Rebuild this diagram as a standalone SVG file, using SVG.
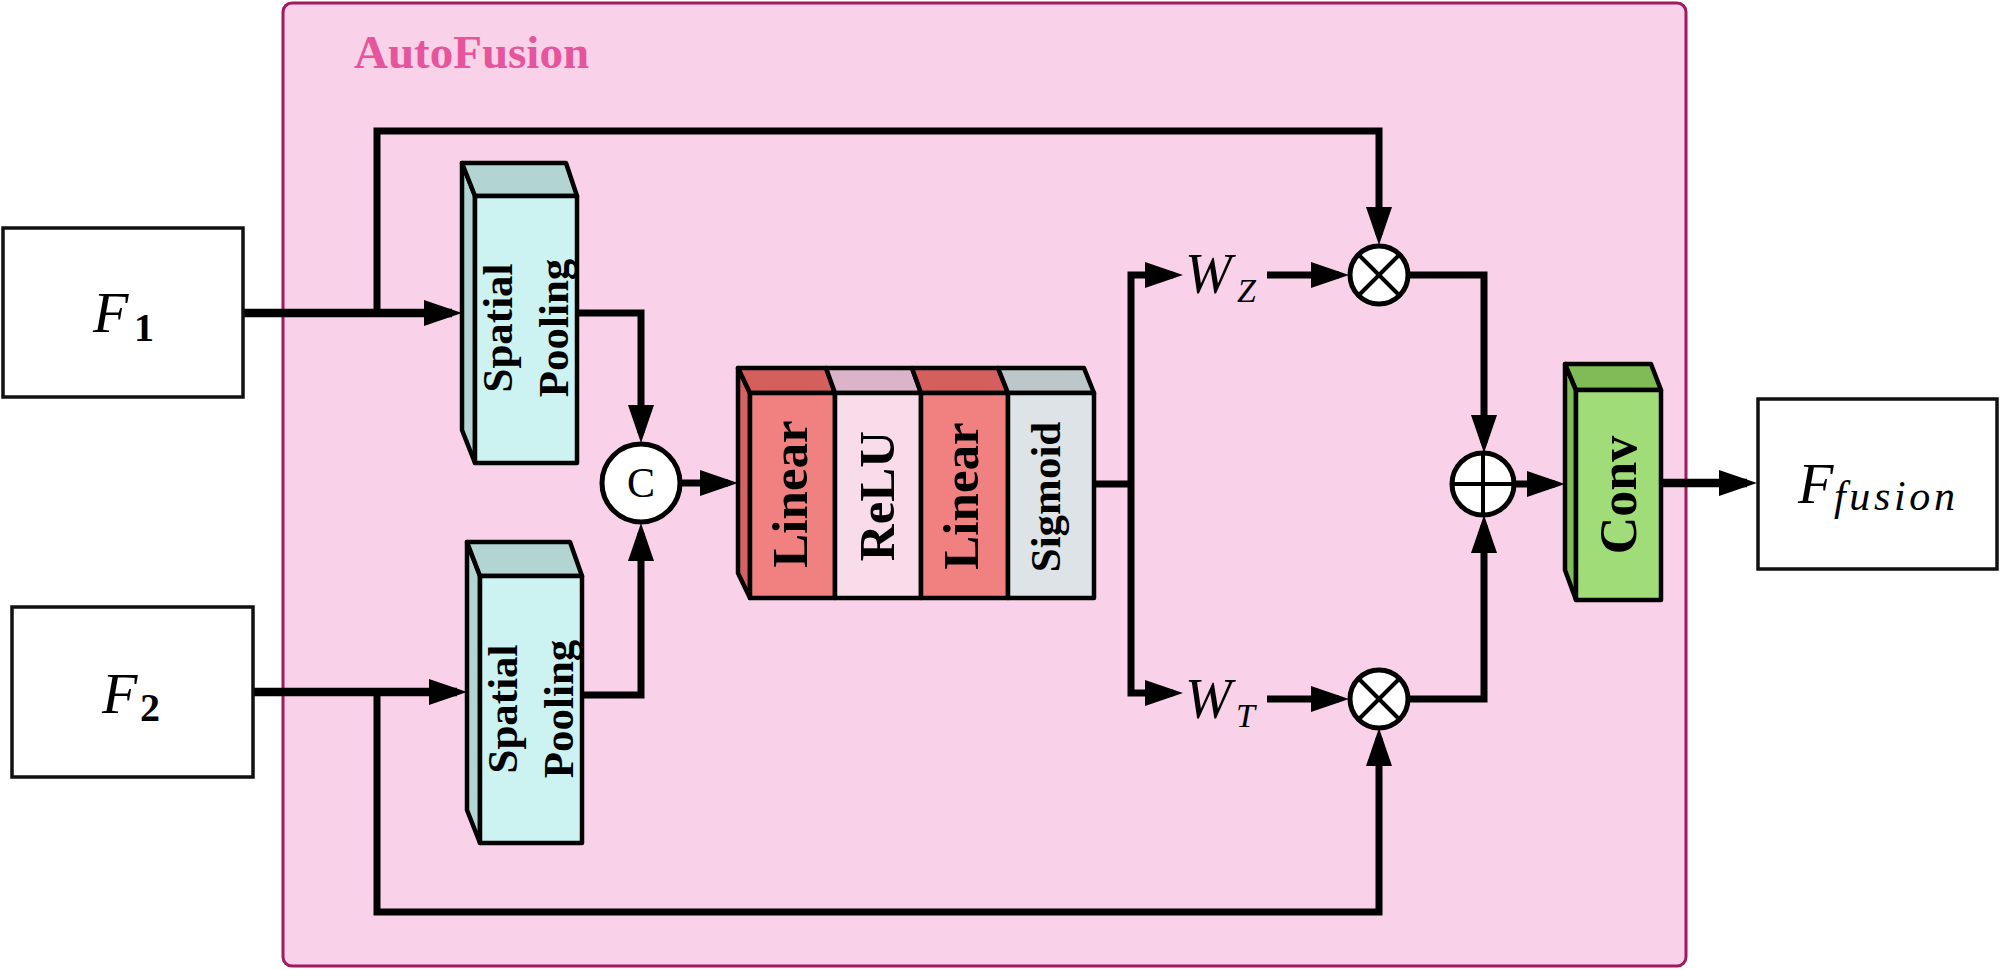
<svg xmlns="http://www.w3.org/2000/svg" width="2000" height="970" viewBox="0 0 2000 970">
<style>
.blk{stroke:#000;stroke-width:4.5;stroke-linejoin:round}
.box{fill:#fff;stroke:#111;stroke-width:3.5}
.ln{fill:none;stroke:#000;stroke-width:7;stroke-linejoin:miter}
.thick{stroke-width:8.5}
.lbl{font-family:"Liberation Serif","Times New Roman",serif;font-weight:bold;fill:#000}
.math{font-family:"Liberation Serif","Times New Roman",serif;font-style:italic;fill:#000}
.op{fill:#fff;stroke:#000;stroke-width:5}
.opl{stroke:#000;stroke-width:4}
</style>
<defs>
<marker id="ah" markerUnits="userSpaceOnUse" markerWidth="38" markerHeight="26" viewBox="0 0 38 26" refX="28" refY="13" orient="auto">
<path d="M0,0 L38,13 L0,26 z" fill="#000"/>
</marker>
</defs>

<g id="autofusion">
<rect x="283" y="3" width="1403" height="963" rx="9" fill="#f9d1e8" stroke="#a01a5e" stroke-width="3"/>
<text x="354" y="68" font-family="'Liberation Serif','Times New Roman',serif" font-weight="bold" font-size="47" fill="#e6559b">AutoFusion</text>
</g>

<g id="connectors">
<path class="ln thick" d="M243,313 H452" marker-end="url(#ah)"/>
<path class="ln" d="M377,313 V131 H1379 V235" marker-end="url(#ah)"/>
<path class="ln" d="M577,313 H641 V433" marker-end="url(#ah)"/>
<path class="ln thick" d="M253,692 H457" marker-end="url(#ah)"/>
<path class="ln" d="M377,692 V912 H1379 V738" marker-end="url(#ah)"/>
<path class="ln" d="M582,695 H641 V533" marker-end="url(#ah)"/>
<path class="ln" d="M680,483 H728" marker-end="url(#ah)"/>
<path class="ln" d="M1094,484 H1131"/>
<path class="ln" d="M1131,484 V275 H1173" marker-end="url(#ah)"/>
<path class="ln" d="M1131,484 V693 H1173" marker-end="url(#ah)"/>
<path class="ln" d="M1267,275 H1339" marker-end="url(#ah)"/>
<path class="ln" d="M1267,699 H1339" marker-end="url(#ah)"/>
<path class="ln" d="M1408,275 H1484 V443" marker-end="url(#ah)"/>
<path class="ln" d="M1408,699 H1484 V525" marker-end="url(#ah)"/>
<path class="ln" d="M1514,484 H1555" marker-end="url(#ah)"/>
<path class="ln thick" d="M1661,483 H1747" marker-end="url(#ah)"/>
</g>

<g id="F1">
<rect class="box" x="3" y="228" width="240" height="169"/>
<text class="math" x="93" y="332" font-size="58">F</text>
<text x="134" y="341" font-family="'Liberation Serif','Times New Roman',serif" font-weight="bold" font-size="40">1</text>
</g>

<g id="F2">
<rect class="box" x="12" y="607" width="241" height="170"/>
<text class="math" x="102" y="713" font-size="58">F</text>
<text x="140" y="721" font-family="'Liberation Serif','Times New Roman',serif" font-weight="bold" font-size="40">2</text>
</g>

<g id="Ffusion">
<rect class="box" x="1758" y="399" width="239" height="170"/>
<text class="math" x="1798" y="503" font-size="58">F</text>
<text class="math" x="1834" y="510" font-size="42" textLength="121">fusion</text>
</g>

<g id="spatial_pooling_1">
<polygon class="blk" points="462,163 475,196 475,463 462,430" fill="#b2d5d2"/>
<polygon class="blk" points="462,163 566,163 577,196 475,196" fill="#b2d5d2"/>
<rect class="blk" x="475" y="196" width="102" height="267" fill="#cdf2f2"/>
<text class="lbl" font-size="43" text-anchor="middle" transform="translate(512,328) rotate(-90)">Spatial</text>
<text class="lbl" font-size="43" text-anchor="middle" transform="translate(568,328) rotate(-90)">Pooling</text>
</g>

<g id="spatial_pooling_2">
<polygon class="blk" points="467,542 480,576 480,843 467,810" fill="#b2d5d2"/>
<polygon class="blk" points="467,542 570,542 582,576 480,576" fill="#b2d5d2"/>
<rect class="blk" x="480" y="576" width="102" height="267" fill="#cdf2f2"/>
<text class="lbl" font-size="43" text-anchor="middle" transform="translate(517,709) rotate(-90)">Spatial</text>
<text class="lbl" font-size="43" text-anchor="middle" transform="translate(573,709) rotate(-90)">Pooling</text>
</g>

<g id="concat">
<circle class="op" cx="641" cy="483" r="39"/>
<text x="641" y="497" text-anchor="middle" font-family="'Liberation Serif','Times New Roman',serif" font-size="42">C</text>
</g>

<g id="mlp">
<polygon class="blk" points="738,368 750,393 750,598 738,573" fill="#d46262"/>
<polygon class="blk" points="738,368 826,368 835,393 750,393" fill="#d45f5d"/>
<polygon class="blk" points="826,368 912,368 921,393 835,393" fill="#dbb4c9"/>
<polygon class="blk" points="912,368 998,368 1008,393 921,393" fill="#d45f5d"/>
<polygon class="blk" points="998,368 1084,368 1094,393 1008,393" fill="#bdc6c8"/>
<rect class="blk" x="750" y="393" width="85" height="205" fill="#f08180"/>
<rect class="blk" x="835" y="393" width="86" height="205" fill="#f9dcea"/>
<rect class="blk" x="921" y="393" width="87" height="205" fill="#f08180"/>
<rect class="blk" x="1008" y="393" width="86" height="205" fill="#dde3e6"/>
<text class="lbl" font-size="51" text-anchor="middle" transform="translate(807,494) rotate(-90)">Linear</text>
<text class="lbl" font-size="51" text-anchor="middle" transform="translate(894,496) rotate(-90)">ReLU</text>
<text class="lbl" font-size="51" text-anchor="middle" transform="translate(978,496) rotate(-90)">Linear</text>
<text class="lbl" font-size="43" text-anchor="middle" transform="translate(1060,497) rotate(-90)">Sigmoid</text>
</g>

<g id="WZ">
<text class="math" x="1185" y="293" font-size="56">W</text>
<text class="math" x="1237" y="302" font-size="34">Z</text>
</g>

<g id="WT">
<text class="math" x="1185" y="718" font-size="56">W</text>
<text class="math" x="1236" y="727" font-size="34">T</text>
</g>

<g id="mul_top">
<circle class="op" cx="1379" cy="275" r="29"/>
<line class="opl" x1="1358.5" y1="254.5" x2="1399.5" y2="295.5"/>
<line class="opl" x1="1399.5" y1="254.5" x2="1358.5" y2="295.5"/>
</g>

<g id="mul_bottom">
<circle class="op" cx="1379" cy="699" r="29"/>
<line class="opl" x1="1358.5" y1="678.5" x2="1399.5" y2="719.5"/>
<line class="opl" x1="1399.5" y1="678.5" x2="1358.5" y2="719.5"/>
</g>

<g id="add">
<circle class="op" cx="1483" cy="484" r="31"/>
<line class="opl" x1="1452" y1="484" x2="1514" y2="484"/>
<line class="opl" x1="1483" y1="453" x2="1483" y2="515"/>
</g>

<g id="conv">
<polygon class="blk" points="1565,364 1576,390 1576,600 1565,570" fill="#80bb56"/>
<polygon class="blk" points="1565,364 1651,364 1661,390 1576,390" fill="#80bb56"/>
<rect class="blk" x="1576" y="390" width="85" height="210" fill="#a0dc78"/>
<text class="lbl" font-size="52" text-anchor="middle" transform="translate(1636,495) rotate(-90)">Conv</text>
</g>
</svg>
